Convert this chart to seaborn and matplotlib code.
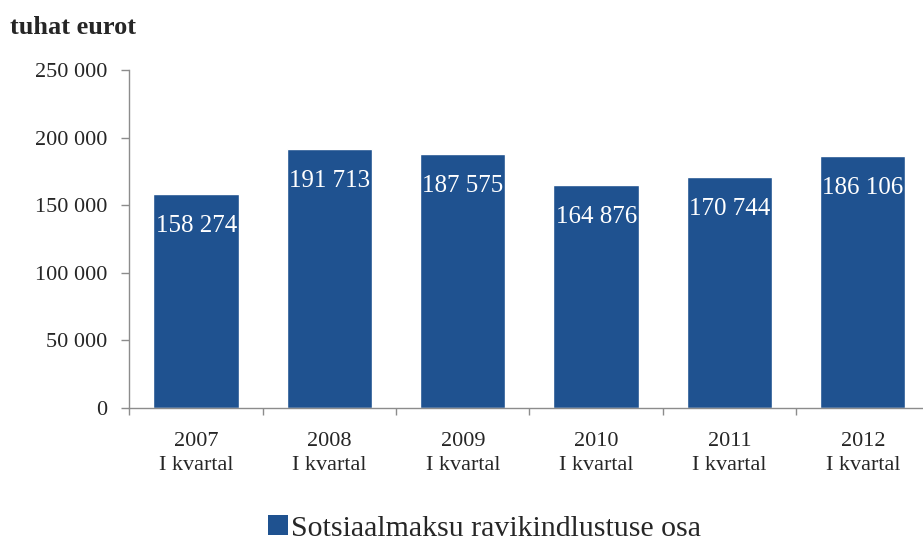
import matplotlib
matplotlib.use("Agg")
import matplotlib.pyplot as plt
import seaborn as sns
import pandas as pd
from matplotlib.ticker import FuncFormatter, FixedLocator
from matplotlib.patches import Patch

# data
years = ["2007", "2008", "2009", "2010", "2011", "2012"]
quarter = "I kvartal"
values = [158274, 191713, 187575, 164876, 170744, 186106]
series_name = "Sotsiaalmaksu ravikindlustuse osa"
unit_label = "tuhat eurot"

bar_color = "#1F5290"
axis_gray = "#8C8C8C"

sns.set_theme(style="white")
plt.rcParams["font.family"] = ["Liberation Serif", "DejaVu Serif"]

df = pd.DataFrame({"cat": [f"{y}\n{quarter}" for y in years], "val": values})

fig = plt.figure(figsize=(9.23, 5.45), dpi=100)
# plot area runs a bit past the right edge, like the original
ax = fig.add_axes([0.1403, 0.2514, 0.8667, 0.6202])

sns.barplot(data=df, x="cat", y="val", color=bar_color, saturation=1,
            width=0.64, ax=ax)

def fmt(v):
    return f"{int(v):,}".replace(",", " ")

# value labels inside the bars (clipped to the bar)
bars = ax.patches
for i, v in enumerate(values):
    t = ax.annotate(fmt(v), xy=(i, v), xytext=(0, -23), textcoords="offset points",
                    ha="center", va="center", color="white", fontsize=18)
    t.set_clip_path(bars[i])

ax.set_ylim(0, 250000)
ax.set_xlim(-0.5, len(years) - 0.5)
ax.set_yticks(range(0, 250001, 50000))
ax.yaxis.set_major_formatter(FuncFormatter(lambda v, p: fmt(v)))

# x ticks at category boundaries, labels centred
ax.xaxis.set_minor_locator(FixedLocator([i - 0.5 for i in range(len(years) + 1)]))
ax.tick_params(axis="x", which="major", length=0, pad=17, labelsize=16)
ax.tick_params(axis="x", which="minor", length=5, width=1, color=axis_gray,
               direction="out", bottom=True)
ax.tick_params(axis="y", length=6, width=1, color=axis_gray, direction="out",
               left=True, pad=10, labelsize=16)
for lab in ax.get_xticklabels():
    lab.set_linespacing(1.4)
ax.set_xlabel("")
ax.set_ylabel("")

for s in ["top", "right"]:
    ax.spines[s].set_visible(False)
for s in ["left", "bottom"]:
    ax.spines[s].set_color(axis_gray)
    ax.spines[s].set_linewidth(1)

fig.text(0.011, 0.95, unit_label, fontsize=19, fontweight="bold",
         ha="left", va="center")

handle = Patch(facecolor=bar_color, edgecolor="none", label=series_name)
fig.legend(handles=[handle], loc="center", bbox_to_anchor=(0.525, 0.03),
           frameon=False, fontsize=21.5, handlelength=0.65, handleheight=0.65,
           handletextpad=0.1, borderpad=0.2)

plt.savefig("out.png", dpi=100)
